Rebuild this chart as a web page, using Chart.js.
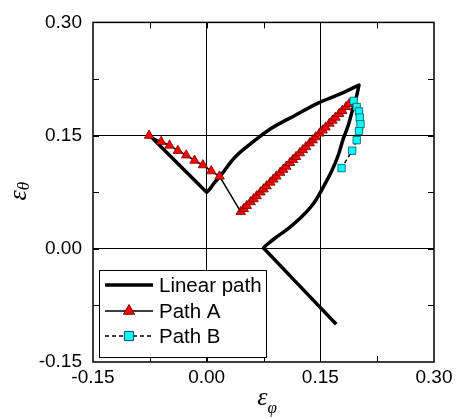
<!DOCTYPE html>
<html><head><meta charset="utf-8">
<script src="https://cdn.jsdelivr.net/npm/chart.js@4.4.0/dist/chart.umd.min.js"></script>
<style>html,body{margin:0;padding:0;background:#fff;}canvas{display:block}</style>
</head><body>
<canvas id="c" width="458" height="419"></canvas>
<script>
// ---- data ----
const seriesNames = ["Linear path", "Path A", "Path B"];
// corner points are listed twice so that the smoothed path keeps its sharp corners
const linearX = [-0.075, 0.000, 0.000, 0.004, 0.009, 0.020, 0.037, 0.059, 0.086, 0.117, 0.147, 0.178, 0.201, 0.201, 0.198, 0.193, 0.187, 0.180, 0.174, 0.165, 0.154, 0.141, 0.125, 0.108, 0.090, 0.079, 0.075, 0.075, 0.171];
const linearY = [0.150, 0.075, 0.075, 0.079, 0.086, 0.099, 0.121, 0.140, 0.160, 0.177, 0.193, 0.206, 0.217, 0.217, 0.203, 0.186, 0.164, 0.145, 0.125, 0.103, 0.082, 0.060, 0.042, 0.027, 0.014, 0.005, 0.001, 0.001, -0.100];
const pathAX = [-0.076, -0.060, -0.049, -0.038, -0.027, -0.016, -0.005, 0.006, 0.017,
  0.045, 0.049, 0.053, 0.058, 0.062, 0.066, 0.071, 0.075, 0.079, 0.084, 0.088, 0.092, 0.097, 0.101, 0.105, 0.110, 0.114,
  0.118, 0.123, 0.127, 0.131, 0.136, 0.140, 0.144, 0.149, 0.153, 0.157, 0.162, 0.166, 0.170, 0.175, 0.179, 0.184, 0.188];
const pathAY = [0.150, 0.142, 0.137, 0.130, 0.124, 0.117, 0.111, 0.103, 0.096,
  0.049, 0.053, 0.057, 0.062, 0.066, 0.070, 0.075, 0.079, 0.083, 0.088, 0.092, 0.096, 0.101, 0.105, 0.109, 0.114, 0.118,
  0.122, 0.127, 0.131, 0.135, 0.140, 0.144, 0.148, 0.153, 0.157, 0.161, 0.166, 0.170, 0.174, 0.179, 0.183, 0.188, 0.192];
const pathBX = [0.194, 0.198, 0.201, 0.202, 0.203, 0.201, 0.198, 0.192, 0.178];
const pathBY = [0.196, 0.188, 0.182, 0.174, 0.165, 0.156, 0.144, 0.130, 0.107];
const tickValues = [-0.15, 0.00, 0.15, 0.30];
const minorStep = 0.075;

const pts = (xs, ys) => xs.map((x, i) => ({x, y: ys[i]}));

const framePlugin = {
  id: 'frame',
  beforeDatasetsDraw(chart) {
    const {ctx, chartArea: a, scales} = chart;
    ctx.save();
    ctx.strokeStyle = '#000';
    ctx.lineWidth = 1;
    for (let v = -0.15 + minorStep; v < 0.30 - 1e-6; v += minorStep) {
      const px = Math.round(scales.x.getPixelForValue(v)) + 0.5;
      const py = Math.round(scales.y.getPixelForValue(v)) + 0.5;
      ctx.beginPath();
      ctx.moveTo(px, a.bottom); ctx.lineTo(px, a.bottom - 6);
      ctx.moveTo(px, a.top); ctx.lineTo(px, a.top + 6);
      ctx.moveTo(a.left, py); ctx.lineTo(a.left + 6, py);
      ctx.moveTo(a.right, py); ctx.lineTo(a.right - 6, py);
      ctx.stroke();
    }
    ctx.restore();
  },
  afterDatasetsDraw(chart) {
    const {ctx, chartArea: a} = chart;
    ctx.save();
    ctx.strokeStyle = '#000';
    ctx.lineWidth = 1.5;
    ctx.strokeRect(a.left, a.top, a.right - a.left, a.bottom - a.top);
    // legend box
    const lx = 99, ly = 270, lw = 167, lh = 87;
    ctx.fillStyle = '#fff';
    ctx.fillRect(lx, ly, lw, lh);
    ctx.lineWidth = 1;
    ctx.strokeRect(lx + 0.5, ly + 0.5, lw, lh);
    const rows = [285, 311, 336];
    const ds = chart.data.datasets;
    ctx.font = '20.5px "Liberation Sans", Arial, sans-serif';
    ctx.textBaseline = 'middle';
    ctx.textAlign = 'left';
    for (let i = 0; i < 3; i++) {
      const d = ds[i];
      const y = rows[i];
      ctx.strokeStyle = '#000';
      ctx.lineWidth = d.borderWidth;
      ctx.setLineDash(d.borderDash || []);
      ctx.beginPath();
      ctx.moveTo(105, y); ctx.lineTo(153, y);
      ctx.stroke();
      ctx.setLineDash([]);
      if (d.pointRadius > 0) {
        const opts = {pointStyle: d.pointStyle, radius: 6.5, borderWidth: 1};
        ctx.fillStyle = d.pointBackgroundColor;
        ctx.strokeStyle = d.pointBorderColor;
        ctx.lineWidth = 1;
        Chart.helpers.drawPoint(ctx, opts, 129, y);
      }
      ctx.fillStyle = '#000';
      ctx.fillText(d.label, 159, y + 1);
    }
    ctx.restore();
  },
  afterDraw(chart) {
    const {ctx, chartArea: a} = chart;
    ctx.save();
    ctx.fillStyle = '#000';
    ctx.textBaseline = 'alphabetic';
    const cx = (a.left + a.right) / 2;
    ctx.font = 'italic 26px "Liberation Serif", "Times New Roman", serif';
    ctx.textAlign = 'right';
    ctx.fillText('\u03B5', cx + 4, 405);
    ctx.font = 'italic 17px "Liberation Serif", "Times New Roman", serif';
    ctx.textAlign = 'left';
    ctx.fillText('\u03C6', cx + 4, 413);
    const cy = (a.top + a.bottom) / 2;
    ctx.translate(26, cy);
    ctx.rotate(-Math.PI / 2);
    ctx.font = 'italic 26px "Liberation Serif", "Times New Roman", serif';
    ctx.textAlign = 'right';
    ctx.fillText('\u03B5', 2, 0);
    ctx.font = 'italic 17px "Liberation Serif", "Times New Roman", serif';
    ctx.textAlign = 'left';
    ctx.fillText('\u03B8', 2, 3);
    ctx.restore();
  }
};

const tickFont = {family: '"Liberation Sans", Arial, sans-serif', size: 19};
const gridColor = c => (c.tick && (Math.abs(c.tick.value) < 1e-9 || Math.abs(c.tick.value - 0.15) < 1e-9)) ? '#000' : 'rgba(0,0,0,0)';

new Chart(document.getElementById('c'), {
  type: 'scatter',
  data: {
    datasets: [
      {label: seriesNames[0], data: pts(linearX, linearY), showLine: true, borderColor: '#000', borderWidth: 3.5,
       pointRadius: 0, pointStyle: 'line', order: 3, tension: 0.35, borderJoinStyle: 'round'},
      {label: seriesNames[1], data: pts(pathAX, pathAY), showLine: true, borderColor: '#000', borderWidth: 1.5,
       pointStyle: 'triangle', pointRadius: 5.5, pointBackgroundColor: '#ff0000', pointBorderColor: '#700000', pointBorderWidth: 0.8, order: 2},
      {label: seriesNames[2], data: pts(pathBX, pathBY), showLine: true, borderColor: '#000', borderWidth: 1.5, borderDash: [4, 3],
       pointStyle: 'rect', pointRadius: 5.2, pointBackgroundColor: '#00ffff', pointBorderColor: '#005050', pointBorderWidth: 0.8, order: 1}
    ]
  },
  options: {
    responsive: false,
    devicePixelRatio: 1,
    animation: false,
    events: [],
    layout: {padding: {left: 0, right: 24, top: 18, bottom: 0}},
    plugins: {legend: {display: false}, tooltip: {enabled: false}},
    scales: {
      x: {
        type: 'linear', min: -0.15, max: 0.30,
        afterBuildTicks: s => { s.ticks = tickValues.map(v => ({value: v})); },
        ticks: {callback: v => v.toFixed(2), font: tickFont, color: '#000', padding: 4, maxRotation: 0, autoSkip: false},
        grid: {drawTicks: false, color: gridColor, lineWidth: 1},
        border: {display: false},
        afterFit: s => { s.height = 57; }
      },
      y: {
        type: 'linear', min: -0.15, max: 0.30,
        afterBuildTicks: s => { s.ticks = tickValues.map(v => ({value: v})); },
        ticks: {callback: v => v.toFixed(2), font: tickFont, color: '#000', padding: 11, autoSkip: false},
        grid: {drawTicks: false, color: gridColor, lineWidth: 1},
        border: {display: false},
        afterFit: s => { s.width = 93; }
      }
    }
  },
  plugins: [framePlugin]
});
</script>
</body></html>
